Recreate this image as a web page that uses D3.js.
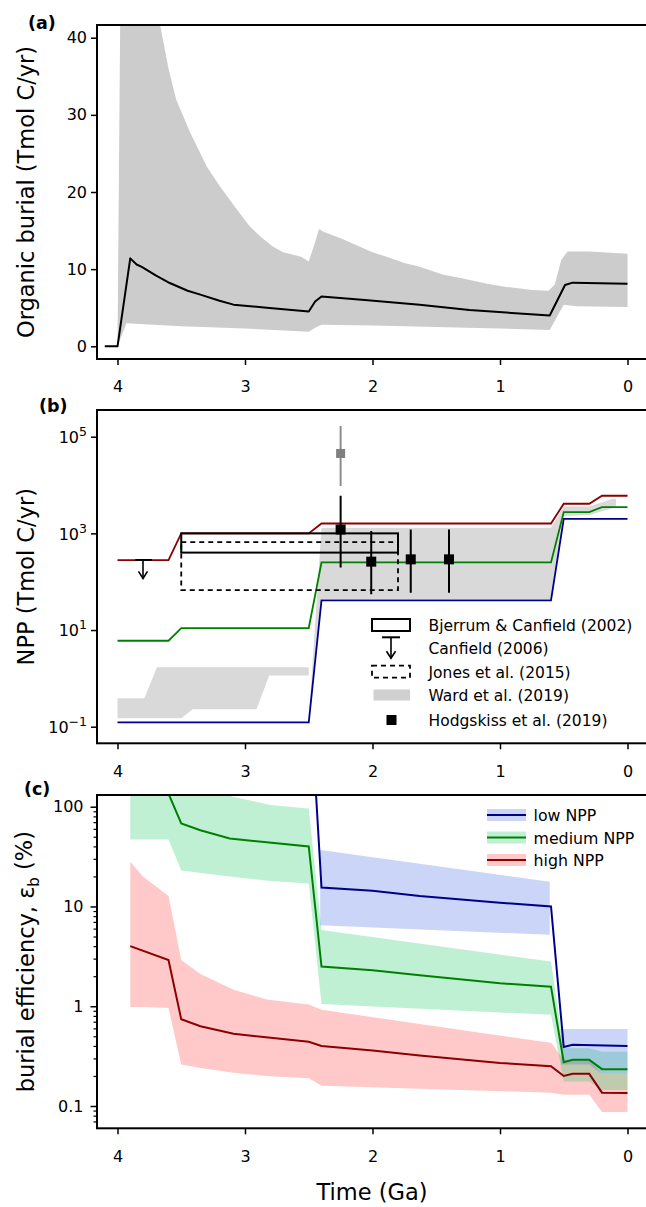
<!DOCTYPE html>
<html>
<head>
<meta charset="utf-8">
<script src="https://cdn.jsdelivr.net/npm/d3@7"></script>
<style>
  body { margin: 0; background: #fff; }
  svg { display: block; font-family: "DejaVu Sans", sans-serif; }
</style>
</head>
<body>
<div id="chart"></div>
<script>
// ---------- data ----------
var timeTicks = [4, 3, 2, 1, 0];

// (a) organic burial, Tmol C/yr
var burialT   = [4.1, 4.0, 3.9, 3.85, 3.81, 3.7, 3.59, 3.45, 3.35, 3.2, 3.09, 2.83, 2.5, 2.45, 2.4, 2.06, 1.63, 1.24, 0.61, 0.49, 0.43, 0.0];
var burialMid = [0, 0, 11.4, 10.6, 10.3, 9.2, 8.2, 7.2, 6.7, 5.9, 5.4, 5.0, 4.5, 5.8, 6.45, 6.0, 5.4, 4.7, 4.0, 7.95, 8.25, 8.1];
var burialHiT = [4.0, 3.97, 3.9, 3.67, 3.6, 3.54, 3.43, 3.3, 3.2, 3.12, 3.04, 2.96, 2.87, 2.78, 2.7, 2.63, 2.56, 2.5, 2.45, 2.42, 2.38, 2.25, 2.0, 1.89, 1.75, 1.63, 1.45, 1.29, 1.1, 0.95, 0.75, 0.62, 0.57, 0.52, 0.47, 0.3, 0.0];
var burialHi  = [0, 60, 75, 42, 36, 32, 27.7, 23.3, 20.8, 19.0, 17.2, 15.5, 14.1, 12.9, 12.2, 11.9, 11.6, 11.0, 13.5, 15.2, 14.8, 14.0, 12.2, 11.6, 10.8, 10.3, 9.3, 8.8, 8.1, 7.7, 7.3, 7.2, 8.0, 11.2, 12.3, 12.3, 12.0];
var burialLoT = [4.0, 3.93, 3.5, 3.0, 2.5, 2.45, 2.4, 2.0, 1.0, 0.61, 0.5, 0.4, 0.0];
var burialLo  = [0, 3.0, 2.6, 2.3, 1.9, 2.4, 2.8, 2.7, 2.3, 2.1, 5.4, 5.2, 5.1];

// (b) NPP, Tmol C/yr
var lowT  = [4.0, 2.5, 2.4, 0.6, 0.5, 0.0];
var lowNPP = [0.123, 0.123, 41, 41, 2000, 2000];
var stepT = [4.0, 3.6, 3.5, 2.5, 2.4, 0.6, 0.5, 0.3, 0.2, 0.0];
var medNPP  = [6, 6, 11, 11, 250, 250, 2750, 2750, 3500, 3500];
var highNPP = [280, 280, 1000, 1000, 1600, 1600, 4100, 4100, 6000, 6000];

var wardEarlyT  = [4.0, 3.79, 3.69, 3.5, 3.41, 2.91, 2.81, 2.5];
var wardEarlyHi = [0.39, 0.39, 1.7, 1.7, 1.7, 1.7, 1.7, 1.7];
var wardEarlyLo = [0.15, 0.15, 0.15, 0.15, 0.23, 0.23, 1.14, 1.14];
var wardLateT  = [2.5, 2.4, 0.6, 0.5, 0.3, 0.12, 0.09];
var wardLateHi = [0.14, 1300, 1300, 3600, 3600, 5200, 5200];
var wardLateLo = [0.13, 44, 44, 2300, 2400, 3300, 3300];

var bjerrumT = [3.5, 1.8], bjerrumNPP = [400, 1000];
var jonesT   = [3.5, 1.8], jonesNPP   = [67, 660];
var canfieldT = [3.86, 3.73], canfieldArrowT = 3.80, canfieldNPP = [280, 117];

var hodgT   = [2.25, 2.01, 1.70, 1.40];
var hodgNPP = [1200, 260, 290, 290];
var hodgLo  = [196, 55, 59, 59];
var hodgHi  = [6000, 1120, 1200, 1200];
var hodgOutT = 2.25, hodgOut = [9500, 45000, 166000];

var legendB = ["Bjerrum & Canfield (2002)", "Canfield (2006)", "Jones et al. (2015)", "Ward et al. (2019)", "Hodgskiss et al. (2019)"];

// (c) burial efficiency, %
var highEffT = [3.9, 3.6, 3.5, 3.35, 3.09, 2.78, 2.5, 2.4, 2.0, 1.63, 1.0, 0.6, 0.5, 0.43, 0.3, 0.2, 0.0];
var highEff  = [4.0, 2.9, 0.74, 0.63, 0.53, 0.48, 0.44, 0.40, 0.36, 0.32, 0.27, 0.25, 0.20, 0.21, 0.21, 0.136, 0.135];
var highBandT  = [3.9, 3.8, 3.6, 3.5, 3.35, 3.09, 2.83, 2.5, 2.4, 0.6, 0.5, 0.3, 0.2, 0.0];
var highBandHi = [28, 20, 12.7, 2.9, 2.1, 1.46, 1.17, 1.04, 0.92, 0.43, 0.29, 0.29, 0.21, 0.21];
var highBandLo = [0.98, 0.98, 0.96, 0.26, 0.24, 0.215, 0.2, 0.19, 0.16, 0.136, 0.13, 0.13, 0.087, 0.087];

var medEffT = [3.9, 3.6, 3.5, 3.35, 3.12, 2.83, 2.5, 2.4, 2.0, 1.63, 1.0, 0.6, 0.5, 0.43, 0.3, 0.2, 0.0];
var medEff  = [186, 135, 68, 58, 48, 44, 40, 2.5, 2.3, 2.05, 1.7, 1.57, 0.275, 0.29, 0.29, 0.234, 0.234];
var medBandT  = [3.9, 3.6, 3.5, 3.12, 2.8, 2.5, 2.4, 0.6, 0.5, 0.3, 0.2, 0.0];
var medBandHi = [1300, 590, 160, 128, 104, 96, 5.8, 2.8, 0.38, 0.38, 0.35, 0.35];
var medBandLo = [47, 47, 23, 20, 18, 17, 1.05, 0.82, 0.176, 0.176, 0.145, 0.145];

var lowEffT = [2.5, 2.4, 2.0, 1.63, 1.0, 0.6, 0.5, 0.43, 0.0];
var lowEff  = [2300, 15.5, 14.4, 12.7, 10.9, 10.0, 0.39, 0.41, 0.40];
var lowBandT  = [2.41, 0.61, NaN, 0.52, 0.3, 0.2, 0.0];
var lowBandHi = [36.8, 17.7, NaN, 0.59, 0.59, 0.59, 0.59];
var lowBandLo = [6.5, 5.2, NaN, 0.26, 0.26, 0.21, 0.21];

var legendC = ["low NPP", "medium NPP", "high NPP"];

// ---------- layout ----------
var W = 646, H = 1207, left = 97, right = 648;
var cBlue = "#00008b", cGreen = "#008000", cRed = "#8b0000";
var fBlue = "#4169e1", fGreen = "#2ecc71", fRed = "#ff0000";

var svg = d3.select("#chart").append("svg").attr("width", W).attr("height", H);
var defs = svg.append("defs");

var x = d3.scaleLinear().domain([4, 0]).range([117.5, 627.5]);

function zip(xs, ys) { return xs.map(function (t, i) { return [t, ys[i]]; }); }
function zip3(xs, lo, hi) { return xs.map(function (t, i) { return [t, lo[i], hi[i]]; }); }

function panel(id, top, bottom) {
  defs.append("clipPath").attr("id", "clip-" + id)
    .append("rect").attr("x", left).attr("y", top).attr("width", right - left).attr("height", bottom - top);
  var g = svg.append("g");
  var plot = g.append("g").attr("clip-path", "url(#clip-" + id + ")");
  return { g: g, plot: plot, top: top, bottom: bottom };
}

function finish(p, yAxis) {
  // frame
  p.g.append("rect").attr("x", left).attr("y", p.top).attr("width", right - left).attr("height", p.bottom - p.top)
    .attr("fill", "none").attr("stroke", "#000").attr("stroke-width", 2);
  var gx = p.g.append("g").attr("transform", "translate(0," + p.bottom + ")")
    .call(d3.axisBottom(x).tickValues(timeTicks).tickSize(6).tickPadding(16).tickFormat(d3.format("d")));
  gx.select(".domain").remove();
  gx.selectAll("line").attr("stroke-width", 1.5);
  gx.selectAll("text").attr("font-size", "16px").attr("font-family", "DejaVu Sans");
  var gy = p.g.append("g").attr("transform", "translate(" + left + ",0)").call(yAxis);
  gy.select(".domain").remove();
  gy.selectAll("line").attr("stroke-width", 1.5);
  gy.selectAll("text").attr("font-size", "16px").attr("font-family", "DejaVu Sans");
  return gy;
}

function yTitle(cy) {
  return svg.append("text").attr("transform", "translate(34," + cy + ") rotate(-90)")
    .attr("text-anchor", "middle").attr("font-size", "22.5px");
}

function tag(txt, tx, ty) {
  svg.append("text").attr("x", tx).attr("y", ty).attr("font-size", "17.5px").attr("font-weight", "bold").text(txt);
}

// ---------- (a) ----------
var pa = panel("a", 25, 359);
var ya = d3.scaleLinear().domain([0, 40]).range([346.3, 37.7]);
var lineA = d3.line().x(function (d) { return x(d[0]); }).y(function (d) { return ya(d[1]); });

var bandA = zip(burialHiT, burialHi).concat(zip(burialLoT, burialLo).reverse());
pa.plot.append("path").attr("d", lineA(bandA) + "Z").attr("fill", "#cccccc");
pa.plot.append("path").attr("d", lineA(zip(burialT, burialMid)))
  .attr("fill", "none").attr("stroke", "#000").attr("stroke-width", 2).attr("stroke-linejoin", "round");

finish(pa, d3.axisLeft(ya).tickValues([0, 10, 20, 30, 40]).tickSize(6).tickPadding(4));
yTitle(192).text("Organic burial (Tmol C/yr)");
tag("(a)", 28, 29);

// ---------- (b) ----------
var pb = panel("b", 410, 743.3);
var yb = d3.scaleLog().domain([0.1, 1e5]).range([726.7, 436.7]);
var lineB = d3.line().x(function (d) { return x(d[0]); }).y(function (d) { return yb(d[1]); });
var areaB = d3.area().x(function (d) { return x(d[0]); }).y0(function (d) { return yb(d[1]); }).y1(function (d) { return yb(d[2]); });

pb.plot.append("path").attr("d", areaB(zip3(wardEarlyT, wardEarlyLo, wardEarlyHi))).attr("fill", "#d9d9d9");
pb.plot.append("path").attr("d", areaB(zip3(wardLateT, wardLateLo, wardLateHi))).attr("fill", "#d9d9d9");

[[lowT, lowNPP, cBlue], [stepT, medNPP, cGreen], [stepT, highNPP, cRed]].forEach(function (s) {
  pb.plot.append("path").attr("d", lineB(zip(s[0], s[1])))
    .attr("fill", "none").attr("stroke", s[2]).attr("stroke-width", 1.8);
});

// literature estimates
pb.plot.append("rect")
  .attr("x", x(bjerrumT[0])).attr("y", yb(bjerrumNPP[1]))
  .attr("width", x(bjerrumT[1]) - x(bjerrumT[0])).attr("height", yb(bjerrumNPP[0]) - yb(bjerrumNPP[1]))
  .attr("fill", "none").attr("stroke", "#000").attr("stroke-width", 2);
pb.plot.append("rect")
  .attr("x", x(jonesT[0])).attr("y", yb(jonesNPP[1]))
  .attr("width", x(jonesT[1]) - x(jonesT[0])).attr("height", yb(jonesNPP[0]) - yb(jonesNPP[1]))
  .attr("fill", "none").attr("stroke", "#000").attr("stroke-width", 1.8).attr("stroke-dasharray", "5,4");

function arrow(g, ax, x0, x1, y0, y1) {
  g.append("line").attr("x1", x0).attr("x2", x1).attr("y1", y0).attr("y2", y0).attr("stroke", "#000").attr("stroke-width", 2);
  g.append("line").attr("x1", ax).attr("x2", ax).attr("y1", y0).attr("y2", y1).attr("stroke", "#000").attr("stroke-width", 1.6);
  g.append("path").attr("d", "M" + (ax - 4.5) + "," + (y1 - 7) + "L" + ax + "," + y1 + "L" + (ax + 4.5) + "," + (y1 - 7))
    .attr("fill", "none").attr("stroke", "#000").attr("stroke-width", 1.6);
}
arrow(pb.plot, x(canfieldArrowT), x(canfieldT[0]), x(canfieldT[1]), yb(canfieldNPP[0]), yb(canfieldNPP[1]));

pb.plot.append("line").attr("x1", x(hodgOutT)).attr("x2", x(hodgOutT))
  .attr("y1", yb(hodgOut[0])).attr("y2", yb(hodgOut[2])).attr("stroke", "#8c8c8c").attr("stroke-width", 2);
pb.plot.append("rect").attr("x", x(hodgOutT) - 4.5).attr("y", yb(hodgOut[1]) - 4.5)
  .attr("width", 9).attr("height", 9).attr("fill", "#808080");

var hodg = pb.plot.selectAll(".hodg").data(hodgT).enter().append("g").attr("class", "hodg");
hodg.append("line").attr("x1", function (d) { return x(d); }).attr("x2", function (d) { return x(d); })
  .attr("y1", function (d, i) { return yb(hodgLo[i]); }).attr("y2", function (d, i) { return yb(hodgHi[i]); })
  .attr("stroke", "#000").attr("stroke-width", 2);
hodg.append("rect").attr("x", function (d) { return x(d) - 5; }).attr("y", function (d, i) { return yb(hodgNPP[i]) - 5; })
  .attr("width", 10).attr("height", 10).attr("fill", "#000");

// legend (b)
var lgB = pb.g.append("g");
var rowB = [625, 648.3, 671.7, 695, 720];
lgB.append("rect").attr("x", 372).attr("y", rowB[0] - 6).attr("width", 38).attr("height", 12)
  .attr("fill", "#fff").attr("stroke", "#000").attr("stroke-width", 2);
arrow(lgB, 391, 382, 400, rowB[1] - 11, rowB[1] + 10);
lgB.append("rect").attr("x", 372).attr("y", rowB[2] - 6).attr("width", 38).attr("height", 12)
  .attr("fill", "#fff").attr("stroke", "#000").attr("stroke-width", 1.8).attr("stroke-dasharray", "5,4");
lgB.append("rect").attr("x", 373.5).attr("y", rowB[3] - 5.5).attr("width", 36.5).attr("height", 11).attr("fill", "#d0d0d0");
lgB.append("rect").attr("x", 386.5).attr("y", rowB[4] - 5).attr("width", 10).attr("height", 10).attr("fill", "#000");
lgB.selectAll("text.lg").data(legendB).enter().append("text").attr("class", "lg")
  .attr("x", 428.5).attr("y", function (d, i) { return rowB[i] + 5.8; })
  .attr("font-size", "15.5px").text(function (d) { return d; });

var gyb = finish(pb, d3.axisLeft(yb).tickValues([0.1, 10, 1000, 1e5]).tickSize(6).tickPadding(4).tickFormat(function () { return ""; }));
gyb.selectAll(".tick text").each(function (d) {
  var e = Math.round(Math.log10(d));
  var t = d3.select(this).attr("dy", "0.36em");
  t.append("tspan").text("10");
  t.append("tspan").attr("dy", "-0.55em").attr("font-size", "12.5px").text(e < 0 ? "\u2212" + (-e) : e);
});
yTitle(576.7).text("NPP (Tmol C/yr)");
tag("(b)", 39, 412);

// ---------- (c) ----------
var pc = panel("c", 795, 1128.3);
var yc = d3.scaleLog().domain([0.1, 100]).range([1106, 806.7]);
var lineC = d3.line().defined(function (d) { return !isNaN(d[0]); })
  .x(function (d) { return x(d[0]); }).y(function (d) { return yc(d[1]); });
var areaC = d3.area().defined(function (d) { return !isNaN(d[0]); })
  .x(function (d) { return x(d[0]); }).y0(function (d) { return yc(d[1]); }).y1(function (d) { return yc(d[2]); });

pc.plot.append("path").attr("d", areaC(zip3(highBandT, highBandLo, highBandHi))).attr("fill", fRed).attr("fill-opacity", 0.21);
pc.plot.append("path").attr("d", areaC(zip3(medBandT, medBandLo, medBandHi))).attr("fill", fGreen).attr("fill-opacity", 0.3);
pc.plot.append("path").attr("d", areaC(zip3(lowBandT, lowBandLo, lowBandHi))).attr("fill", fBlue).attr("fill-opacity", 0.28);

[[lowEffT, lowEff, cBlue], [medEffT, medEff, cGreen], [highEffT, highEff, cRed]].forEach(function (s) {
  pc.plot.append("path").attr("d", lineC(zip(s[0], s[1])))
    .attr("fill", "none").attr("stroke", s[2]).attr("stroke-width", 2);
});

// legend (c)
var rowC = [815, 837.5, 860];
var fillsC = [[fBlue, 0.28], [fGreen, 0.3], [fRed, 0.21]];
var colsC = [cBlue, cGreen, cRed];
legendC.forEach(function (name, i) {
  pc.g.append("rect").attr("x", 487).attr("y", rowC[i] - 6).attr("width", 39).attr("height", 12)
    .attr("fill", fillsC[i][0]).attr("fill-opacity", fillsC[i][1]);
  pc.g.append("line").attr("x1", 487).attr("x2", 526).attr("y1", rowC[i]).attr("y2", rowC[i])
    .attr("stroke", colsC[i]).attr("stroke-width", 2);
  pc.g.append("text").attr("x", 533.5).attr("y", rowC[i] + 6).attr("font-size", "15.8px").text(name);
});

var minorC = [];
[0.01, 0.1, 1, 10, 100].forEach(function (dec) {
  for (var k = 2; k <= 9; k++) {
    var v = dec * k;
    if (yc(v) > 795 && yc(v) < 1128) minorC.push(v);
  }
});
var gmin = pc.g.append("g").attr("transform", "translate(" + left + ",0)")
  .call(d3.axisLeft(yc).tickValues(minorC).tickSize(3.5).tickFormat(""));
gmin.select(".domain").remove();
gmin.selectAll("line").attr("stroke-width", 1.2);

finish(pc, d3.axisLeft(yc).tickValues([0.1, 1, 10, 100]).tickSize(6.5).tickPadding(7)
  .tickFormat(function (d) { return d < 1 ? "0.1" : String(d); }));

var tc = yTitle(961.7);
tc.append("tspan").text("burial efficiency, \u03b5");
tc.append("tspan").attr("font-size", "15px").attr("dy", "0.3em").text("b");
tc.append("tspan").attr("dy", "-0.3em").text(" (%)");
tag("(c)", 24, 795);

svg.append("text").attr("x", 372).attr("y", 1200).attr("text-anchor", "middle")
  .attr("font-size", "22.5px").text("Time (Ga)");
</script>
</body>
</html>
